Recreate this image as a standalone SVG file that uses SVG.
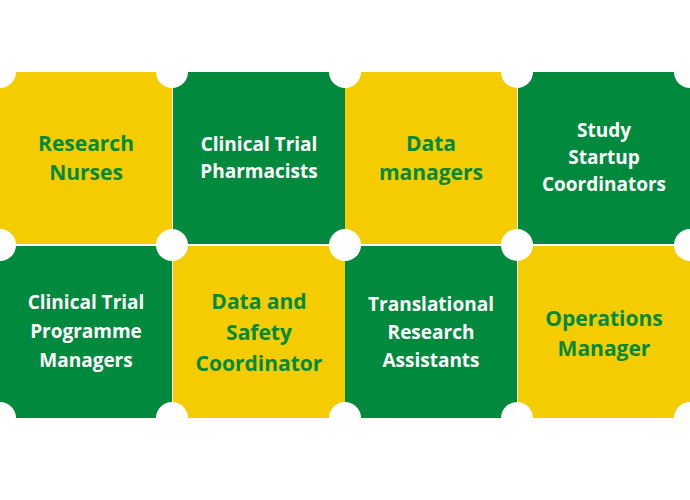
<svg xmlns="http://www.w3.org/2000/svg" width="690" height="500" viewBox="0 0 690 500">
<style>
.y{fill:#F5CC00}.g{fill:#018A3E}
text{font-family:"Open Sans","Liberation Sans",sans-serif;font-weight:bold;text-anchor:middle}
.ty{fill:#018A3E;font-size:21px}.tg{fill:#fff;font-size:19px}
.c{fill:#fff}
</style>
<rect width="690" height="500" fill="#fff"/>
<g id="n1"><rect class="y" x="0" y="72" width="172" height="172"/><text class="ty" x="86" y="151">Research</text><text class="ty" x="86" y="180">Nurses</text></g>
<g id="n2"><rect class="g" x="173" y="72" width="172" height="172"/><text class="tg" x="259" y="151">Clinical Trial</text><text class="tg" x="259" y="178">Pharmacists</text></g>
<g id="n3"><rect class="y" x="345" y="72" width="172" height="172"/><text class="ty" x="431" y="151">Data</text><text class="ty" x="431" y="180">managers</text></g>
<g id="n4"><rect class="g" x="518" y="72" width="172" height="172"/><text class="tg" x="604" y="137">Study</text><text class="tg" x="604" y="164">Startup</text><text class="tg" x="604" y="191">Coordinators</text></g>
<g id="n5"><rect class="g" x="0" y="246" width="172" height="172"/><text class="tg" x="86" y="309">Clinical Trial</text><text class="tg" x="86" y="338">Programme</text><text class="tg" x="86" y="367">Managers</text></g>
<g id="n6"><rect class="y" x="173" y="246" width="172" height="172"/><text class="ty" x="259" y="309">Data and</text><text class="ty" x="259" y="340">Safety</text><text class="ty" x="259" y="371">Coordinator</text></g>
<g id="n7"><rect class="g" x="345" y="246" width="172" height="172"/><text class="tg" x="431" y="311">Translational</text><text class="tg" x="431" y="339">Research</text><text class="tg" x="431" y="367">Assistants</text></g>
<g id="n8"><rect class="y" x="518" y="246" width="172" height="172"/><text class="ty" x="604" y="326">Operations</text><text class="ty" x="604" y="356">Manager</text></g>
<g id="circles">
<circle class="c" cx="0" cy="72" r="16"/><circle class="c" cx="172" cy="72" r="16"/><circle class="c" cx="345" cy="72" r="16"/><circle class="c" cx="517" cy="72" r="16"/><circle class="c" cx="690" cy="72" r="16"/>
<circle class="c" cx="0" cy="245" r="16"/><circle class="c" cx="172" cy="245" r="16"/><circle class="c" cx="345" cy="245" r="16"/><circle class="c" cx="517" cy="245" r="16"/><circle class="c" cx="690" cy="245" r="16"/>
<circle class="c" cx="0" cy="418" r="16"/><circle class="c" cx="172" cy="418" r="16"/><circle class="c" cx="345" cy="418" r="16"/><circle class="c" cx="517" cy="418" r="16"/><circle class="c" cx="690" cy="418" r="16"/>
</g>
</svg>
